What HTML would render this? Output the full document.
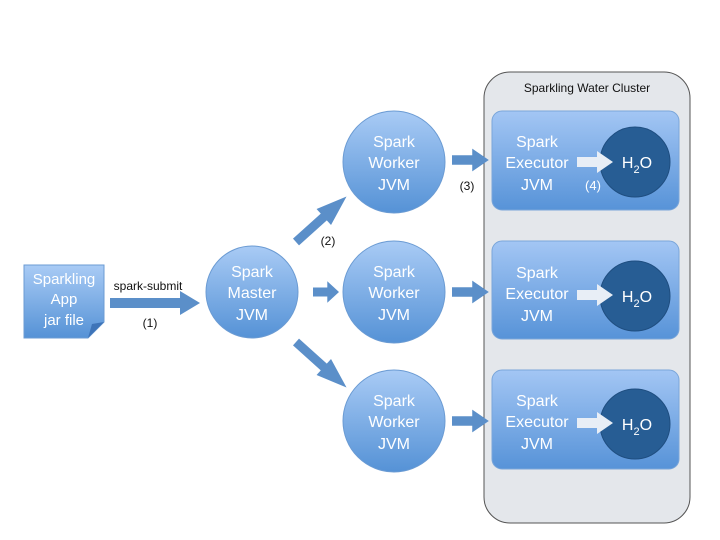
<!DOCTYPE html>
<html><head><style>body{margin:0;background:#fff}svg{display:block}</style></head><body>
<svg width="720" height="540" viewBox="0 0 720 540" xmlns="http://www.w3.org/2000/svg" font-family="Liberation Sans, sans-serif">
<defs>
<linearGradient id="g" x1="0" y1="0" x2="0" y2="1"><stop offset="0" stop-color="#a9cbf5"/><stop offset="1" stop-color="#5592d6"/></linearGradient>
<linearGradient id="gb" x1="0" y1="0" x2="0" y2="1"><stop offset="0" stop-color="#a3c6f4"/><stop offset="1" stop-color="#5793d8"/></linearGradient>
<g id="arr"><polygon points="0,-5 22,-5 22,-12 40,0 22,12 22,5 0,5" fill="#5b8fc9"/></g>
<g id="warr"><polygon points="0,-5 20,-5 20,-11 36,0 20,11 20,5 0,5" fill="#e8eef6"/></g>
</defs>
<rect x="484" y="72" width="206" height="451" rx="26" fill="#e4e7eb" stroke="#555" stroke-width="1"/>
<text x="587" y="92" font-size="12" text-anchor="middle" fill="#111">Sparkling Water Cluster</text>
<polygon points="24,265 104,265 104,322 88,338 24,338" fill="url(#g)" stroke="#6b9bd3" stroke-width="1"/>
<polygon points="104,322 88,338 92,324" fill="#3e74b8"/>
<g fill="#fff" font-size="15" text-anchor="middle"><text x="64" y="284">Sparkling</text><text x="64" y="304">App</text><text x="64" y="325">jar file</text></g>
<polygon points="110,298 180,298 180,291 200,303 180,315 180,308 110,308" fill="#5b8fc9"/>
<text x="148" y="290" font-size="12" text-anchor="middle" fill="#111">spark-submit</text>
<text x="150" y="327" font-size="12" text-anchor="middle" fill="#111">(1)</text>
<circle cx="252" cy="292" r="46" fill="url(#g)" stroke="#6b9bd3"/>
<g fill="#fff" font-size="16" text-anchor="middle"><text x="252" y="277">Spark</text><text x="252" y="298">Master</text><text x="252" y="320">JVM</text></g>
<use href="#arr" transform="translate(296,242) rotate(-42) scale(1.7,0.9)"/>
<use href="#arr" transform="translate(313,292) scale(0.65,0.9)"/>
<use href="#arr" transform="translate(296,342) rotate(42) scale(1.7,0.9)"/>
<text x="328" y="245" font-size="12" text-anchor="middle" fill="#111">(2)</text>
<circle cx="394" cy="162" r="51" fill="url(#g)" stroke="#6b9bd3"/>
<circle cx="394" cy="292" r="51" fill="url(#g)" stroke="#6b9bd3"/>
<circle cx="394" cy="421" r="51" fill="url(#g)" stroke="#6b9bd3"/>
<g fill="#fff" font-size="16" text-anchor="middle">
<text x="394" y="147">Spark</text><text x="394" y="168">Worker</text><text x="394" y="190">JVM</text>
<text x="394" y="277">Spark</text><text x="394" y="298">Worker</text><text x="394" y="320">JVM</text>
<text x="394" y="406">Spark</text><text x="394" y="427">Worker</text><text x="394" y="449">JVM</text>
</g>
<use href="#arr" transform="translate(452,160) scale(0.92,0.95)"/>
<use href="#arr" transform="translate(452,292) scale(0.92,0.95)"/>
<use href="#arr" transform="translate(452,421) scale(0.92,0.95)"/>
<text x="467" y="190" font-size="12" text-anchor="middle" fill="#111">(3)</text>
<rect x="492" y="111" width="187" height="99" rx="10" fill="url(#gb)" stroke="#7aa6da"/>
<rect x="492" y="241" width="187" height="98" rx="10" fill="url(#gb)" stroke="#7aa6da"/>
<rect x="492" y="370" width="187" height="99" rx="10" fill="url(#gb)" stroke="#7aa6da"/>
<g fill="#fff" font-size="16" text-anchor="middle">
<text x="537" y="147">Spark</text><text x="537" y="168">Executor</text><text x="537" y="190">JVM</text>
<text x="537" y="278">Spark</text><text x="537" y="299">Executor</text><text x="537" y="321">JVM</text>
<text x="537" y="406">Spark</text><text x="537" y="427">Executor</text><text x="537" y="449">JVM</text>
</g>
<circle cx="635" cy="162" r="35" fill="#275d94" stroke="#1f4e80"/>
<circle cx="635" cy="296" r="35" fill="#275d94" stroke="#1f4e80"/>
<circle cx="635" cy="424" r="35" fill="#275d94" stroke="#1f4e80"/>
<use href="#warr" transform="translate(577,162)"/>
<use href="#warr" transform="translate(577,295)"/>
<use href="#warr" transform="translate(577,423)"/>
<g fill="#fff" font-size="16" text-anchor="middle">
<text x="637" y="168">H<tspan font-size="11" dy="5">2</tspan><tspan dy="-5">O</tspan></text>
<text x="637" y="302">H<tspan font-size="11" dy="5">2</tspan><tspan dy="-5">O</tspan></text>
<text x="637" y="430">H<tspan font-size="11" dy="5">2</tspan><tspan dy="-5">O</tspan></text>
</g>
<text x="593" y="190" font-size="13" text-anchor="middle" fill="#fff">(4)</text>
</svg>
</body></html>
